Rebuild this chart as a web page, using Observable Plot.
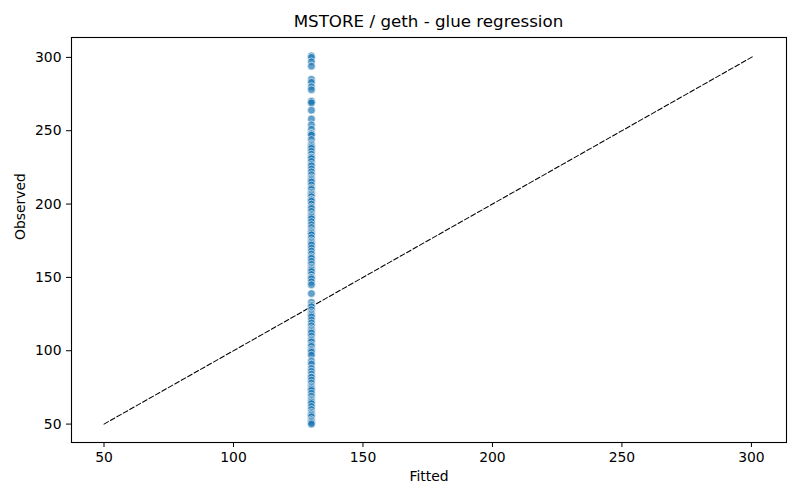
<!DOCTYPE html>
<html>
<head>
<meta charset="utf-8">
<script src="https://cdn.jsdelivr.net/npm/d3@7"></script>
<script src="https://cdn.jsdelivr.net/npm/@observablehq/plot@0.6"></script>
<style>
  body { margin: 0; background: #fff; font-family: "DejaVu Sans", sans-serif; }
  #wrap { width: 800px; }
  #title { height: 30px; position: relative; }
  #title span { position: absolute; left: 71px; width: 715px; top: 11px; text-align: center; font-size: 16.7px; color: #000; }
</style>
</head>
<body>
<div id="wrap">
  <div id="title"><span>MSTORE / geth - glue regression</span></div>
  <div id="chart"></div>
</div>
<script>
const titleText = "MSTORE / geth - glue regression";
const xLabel = "Fitted";
const yLabel = "Observed";
const xTicks = [50, 100, 150, 200, 250, 300];
const yTicks = [50, 100, 150, 200, 250, 300];
const fittedValue = 130.1;
const observed = [
  301, 300, 297, 294, 285, 283, 280, 278, 270, 270, 269, 264, 258, 254, 251, 248, 248, 247,
  244, 241, 240, 239, 238, 236, 234, 232, 232, 231, 229, 227, 226, 224, 222, 220, 218, 217, 216,
  215, 213, 211, 210, 208, 207, 206, 205, 203, 203, 202, 200, 198, 197, 195, 193, 192, 191, 190,
  188, 186, 184, 182, 181, 180, 179, 177, 175, 174, 173, 172, 170, 168, 166, 164, 163, 161,
  159, 157, 156, 155, 154, 152, 150, 150, 149, 147, 145, 139, 133, 131, 130, 128, 126, 125, 124,
  123, 121, 119, 117, 115, 114, 113, 112, 110, 108, 107, 106, 104, 103, 101, 100, 99, 97, 93,
  91, 88, 86, 84, 82, 82, 80, 78, 76, 75, 74, 73, 71, 69, 67, 66, 65, 64, 62,
  60, 58, 57, 56, 55, 53, 52, 51, 50
];

const points = observed.map(o => ({fitted: fittedValue, observed: o}));
const ext = d3.extent([...observed, fittedValue]);
const diag = [{v: ext[0]}, {v: ext[1]}];
const pad = (ext[1] - ext[0]) * 0.05;
const domain = [ext[0] - pad, ext[1] + pad];

const font = 13.9;
const chart = Plot.plot({
  width: 800,
  height: 470,
  marginTop: 7,
  marginBottom: 58,
  marginLeft: 71,
  marginRight: 14,
  style: {fontFamily: "DejaVu Sans, sans-serif", fontSize: font + "px", color: "#000", background: "#fff"},
  x: {domain, ticks: xTicks},
  y: {domain, ticks: yTicks},
  marks: [
    Plot.frame({stroke: "#000", strokeWidth: 1.1}),
    Plot.axisX({ticks: xTicks, tickSize: 5, tickPadding: 5, fontSize: font, label: null}),
    Plot.axisY({ticks: yTicks, tickSize: 5, tickPadding: 5, fontSize: font, label: null}),
    Plot.text([xLabel], {frameAnchor: "bottom", dy: 38, fontSize: font, lineAnchor: "bottom", text: d => d}),
    Plot.text([yLabel], {frameAnchor: "left", dx: -56, rotate: -90, fontSize: font, lineAnchor: "top", text: d => d}),
    Plot.line(diag, {x: "v", y: "v", stroke: "#000", strokeWidth: 1.05, strokeDasharray: "5,2.4"}),
    Plot.dot(points, {x: "fitted", y: "observed", r: 3.9, fill: "#1f77b4", fillOpacity: 0.7, stroke: "#fff", strokeWidth: 0.6})
  ]
});
document.getElementById("chart").appendChild(chart);
</script>
</body>
</html>
